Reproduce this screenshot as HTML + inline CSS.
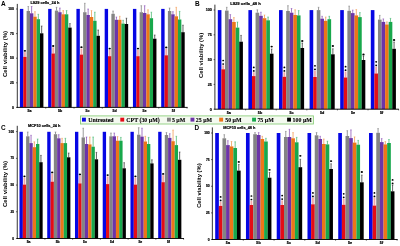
<!DOCTYPE html>
<html><head><meta charset="utf-8"><title>Cell viability</title>
<style>
html,body{margin:0;padding:0;background:#fff;}
body{width:400px;height:246px;overflow:hidden;font-family:"Liberation Sans",sans-serif;}
svg text{font-family:"Liberation Sans",sans-serif;}
</style></head><body>
<svg width="400" height="246" viewBox="0 0 400 246" style="display:block;will-change:transform;opacity:0.999">
<rect width="400" height="246" fill="#fff"/>
<g>
<rect x="19.90" y="8.90" width="3.40" height="98.50" fill="#0606e4"/>
<rect x="24.03" y="52.10" width="1.8" height="4.80" fill="#f2a8a8"/>
<rect x="23.25" y="56.90" width="3.40" height="50.50" fill="#e40c16"/>
<line x1="28.27" y1="11.00" x2="28.27" y2="6.50" stroke="#707070" stroke-width="0.7"/>
<line x1="27.47" y1="6.50" x2="29.07" y2="6.50" stroke="#707070" stroke-width="0.5"/>
<rect x="26.60" y="11.00" width="3.40" height="96.40" fill="#848484"/>
<line x1="31.62" y1="13.30" x2="31.62" y2="6.50" stroke="#8040b0" stroke-width="0.7"/>
<line x1="30.82" y1="6.50" x2="32.42" y2="6.50" stroke="#8040b0" stroke-width="0.5"/>
<rect x="29.95" y="13.30" width="3.40" height="94.10" fill="#6c34a8"/>
<line x1="34.97" y1="16.70" x2="34.97" y2="11.70" stroke="#f09040" stroke-width="0.7"/>
<line x1="34.17" y1="11.70" x2="35.77" y2="11.70" stroke="#f09040" stroke-width="0.5"/>
<rect x="33.30" y="16.70" width="3.40" height="90.70" fill="#ec7618"/>
<line x1="38.32" y1="19.20" x2="38.32" y2="14.30" stroke="#30b060" stroke-width="0.7"/>
<line x1="37.52" y1="14.30" x2="39.12" y2="14.30" stroke="#30b060" stroke-width="0.5"/>
<rect x="36.65" y="19.20" width="3.40" height="88.20" fill="#18a84c"/>
<line x1="41.67" y1="33.30" x2="41.67" y2="26.00" stroke="#202020" stroke-width="0.7"/>
<line x1="40.88" y1="26.00" x2="42.47" y2="26.00" stroke="#202020" stroke-width="0.5"/>
<rect x="40.00" y="33.30" width="3.40" height="74.10" fill="#000000"/>
<ellipse cx="24.93" cy="50.80" rx="1.15" ry="0.9" fill="#000"/>
<text x="29.60" y="111.90" font-size="3.6" font-weight="bold" text-anchor="middle" fill="#000" stroke="#000" stroke-width="0.22">5a</text>
<line x1="45.75" y1="107.40" x2="45.75" y2="108.60" stroke="#000" stroke-width="0.6"/>
<rect x="48.16" y="8.90" width="3.40" height="98.50" fill="#0606e4"/>
<rect x="52.28" y="47.30" width="1.8" height="6.20" fill="#f2a8a8"/>
<rect x="51.51" y="53.50" width="3.40" height="53.90" fill="#e40c16"/>
<line x1="56.53" y1="10.60" x2="56.53" y2="7.30" stroke="#707070" stroke-width="0.7"/>
<line x1="55.73" y1="7.30" x2="57.33" y2="7.30" stroke="#707070" stroke-width="0.5"/>
<rect x="54.86" y="10.60" width="3.40" height="96.80" fill="#848484"/>
<line x1="59.88" y1="12.20" x2="59.88" y2="8.00" stroke="#8040b0" stroke-width="0.7"/>
<line x1="59.08" y1="8.00" x2="60.68" y2="8.00" stroke="#8040b0" stroke-width="0.5"/>
<rect x="58.21" y="12.20" width="3.40" height="95.20" fill="#6c34a8"/>
<line x1="63.23" y1="14.30" x2="63.23" y2="10.60" stroke="#f09040" stroke-width="0.7"/>
<line x1="62.43" y1="10.60" x2="64.03" y2="10.60" stroke="#f09040" stroke-width="0.5"/>
<rect x="61.56" y="14.30" width="3.40" height="93.10" fill="#ec7618"/>
<line x1="66.58" y1="14.30" x2="66.58" y2="10.60" stroke="#30b060" stroke-width="0.7"/>
<line x1="65.78" y1="10.60" x2="67.38" y2="10.60" stroke="#30b060" stroke-width="0.5"/>
<rect x="64.91" y="14.30" width="3.40" height="93.10" fill="#18a84c"/>
<line x1="69.93" y1="27.60" x2="69.93" y2="23.60" stroke="#202020" stroke-width="0.7"/>
<line x1="69.13" y1="23.60" x2="70.73" y2="23.60" stroke="#202020" stroke-width="0.5"/>
<rect x="68.26" y="27.60" width="3.40" height="79.80" fill="#000000"/>
<ellipse cx="53.18" cy="46.00" rx="1.15" ry="0.9" fill="#000"/>
<text x="60.00" y="111.90" font-size="3.6" font-weight="bold" text-anchor="middle" fill="#000" stroke="#000" stroke-width="0.22">5b</text>
<line x1="74.02" y1="107.40" x2="74.02" y2="108.60" stroke="#000" stroke-width="0.6"/>
<rect x="76.42" y="8.90" width="3.40" height="98.50" fill="#0606e4"/>
<rect x="80.54" y="48.50" width="1.8" height="6.10" fill="#f2a8a8"/>
<rect x="79.77" y="54.60" width="3.40" height="52.80" fill="#e40c16"/>
<line x1="84.80" y1="12.20" x2="84.80" y2="3.30" stroke="#707070" stroke-width="0.7"/>
<line x1="84.00" y1="3.30" x2="85.59" y2="3.30" stroke="#707070" stroke-width="0.5"/>
<rect x="83.12" y="12.20" width="3.40" height="95.20" fill="#848484"/>
<line x1="88.14" y1="15.00" x2="88.14" y2="9.00" stroke="#8040b0" stroke-width="0.7"/>
<line x1="87.34" y1="9.00" x2="88.94" y2="9.00" stroke="#8040b0" stroke-width="0.5"/>
<rect x="86.47" y="15.00" width="3.40" height="92.40" fill="#6c34a8"/>
<line x1="91.50" y1="17.00" x2="91.50" y2="10.60" stroke="#f09040" stroke-width="0.7"/>
<line x1="90.70" y1="10.60" x2="92.30" y2="10.60" stroke="#f09040" stroke-width="0.5"/>
<rect x="89.82" y="17.00" width="3.40" height="90.40" fill="#ec7618"/>
<line x1="94.84" y1="20.80" x2="94.84" y2="12.20" stroke="#30b060" stroke-width="0.7"/>
<line x1="94.05" y1="12.20" x2="95.64" y2="12.20" stroke="#30b060" stroke-width="0.5"/>
<rect x="93.17" y="20.80" width="3.40" height="86.60" fill="#18a84c"/>
<line x1="98.20" y1="35.80" x2="98.20" y2="30.00" stroke="#202020" stroke-width="0.7"/>
<line x1="97.40" y1="30.00" x2="99.00" y2="30.00" stroke="#202020" stroke-width="0.5"/>
<rect x="96.52" y="35.80" width="3.40" height="71.60" fill="#000000"/>
<ellipse cx="81.44" cy="47.20" rx="1.15" ry="0.9" fill="#000"/>
<text x="87.60" y="111.90" font-size="3.6" font-weight="bold" text-anchor="middle" fill="#000" stroke="#000" stroke-width="0.22">5c</text>
<line x1="102.28" y1="107.40" x2="102.28" y2="108.60" stroke="#000" stroke-width="0.6"/>
<rect x="104.68" y="8.90" width="3.40" height="98.50" fill="#0606e4"/>
<rect x="108.80" y="49.90" width="1.8" height="6.30" fill="#f2a8a8"/>
<rect x="108.03" y="56.20" width="3.40" height="51.20" fill="#e40c16"/>
<line x1="113.06" y1="13.80" x2="113.06" y2="11.00" stroke="#707070" stroke-width="0.7"/>
<line x1="112.26" y1="11.00" x2="113.86" y2="11.00" stroke="#707070" stroke-width="0.5"/>
<rect x="111.38" y="13.80" width="3.40" height="93.60" fill="#848484"/>
<line x1="116.41" y1="19.80" x2="116.41" y2="17.00" stroke="#8040b0" stroke-width="0.7"/>
<line x1="115.61" y1="17.00" x2="117.20" y2="17.00" stroke="#8040b0" stroke-width="0.5"/>
<rect x="114.73" y="19.80" width="3.40" height="87.60" fill="#6c34a8"/>
<line x1="119.76" y1="19.80" x2="119.76" y2="16.30" stroke="#f09040" stroke-width="0.7"/>
<line x1="118.96" y1="16.30" x2="120.56" y2="16.30" stroke="#f09040" stroke-width="0.5"/>
<rect x="118.08" y="19.80" width="3.40" height="87.60" fill="#ec7618"/>
<line x1="123.11" y1="23.60" x2="123.11" y2="20.30" stroke="#30b060" stroke-width="0.7"/>
<line x1="122.31" y1="20.30" x2="123.91" y2="20.30" stroke="#30b060" stroke-width="0.5"/>
<rect x="121.43" y="23.60" width="3.40" height="83.80" fill="#18a84c"/>
<line x1="126.45" y1="24.00" x2="126.45" y2="18.20" stroke="#202020" stroke-width="0.7"/>
<line x1="125.66" y1="18.20" x2="127.25" y2="18.20" stroke="#202020" stroke-width="0.5"/>
<rect x="124.78" y="24.00" width="3.40" height="83.40" fill="#000000"/>
<ellipse cx="109.70" cy="48.60" rx="1.15" ry="0.9" fill="#000"/>
<text x="114.70" y="111.90" font-size="3.6" font-weight="bold" text-anchor="middle" fill="#000" stroke="#000" stroke-width="0.22">5d</text>
<line x1="130.53" y1="107.40" x2="130.53" y2="108.60" stroke="#000" stroke-width="0.6"/>
<rect x="132.94" y="8.90" width="3.40" height="98.50" fill="#0606e4"/>
<rect x="137.06" y="49.90" width="1.8" height="6.30" fill="#f2a8a8"/>
<rect x="136.29" y="56.20" width="3.40" height="51.20" fill="#e40c16"/>
<line x1="141.31" y1="12.20" x2="141.31" y2="5.70" stroke="#707070" stroke-width="0.7"/>
<line x1="140.51" y1="5.70" x2="142.12" y2="5.70" stroke="#707070" stroke-width="0.5"/>
<rect x="139.64" y="12.20" width="3.40" height="95.20" fill="#848484"/>
<line x1="144.67" y1="13.00" x2="144.67" y2="5.70" stroke="#8040b0" stroke-width="0.7"/>
<line x1="143.87" y1="5.70" x2="145.47" y2="5.70" stroke="#8040b0" stroke-width="0.5"/>
<rect x="142.99" y="13.00" width="3.40" height="94.40" fill="#6c34a8"/>
<line x1="148.02" y1="14.30" x2="148.02" y2="9.80" stroke="#f09040" stroke-width="0.7"/>
<line x1="147.22" y1="9.80" x2="148.82" y2="9.80" stroke="#f09040" stroke-width="0.5"/>
<rect x="146.34" y="14.30" width="3.40" height="93.10" fill="#ec7618"/>
<line x1="151.37" y1="18.20" x2="151.37" y2="12.20" stroke="#30b060" stroke-width="0.7"/>
<line x1="150.56" y1="12.20" x2="152.17" y2="12.20" stroke="#30b060" stroke-width="0.5"/>
<rect x="149.69" y="18.20" width="3.40" height="89.20" fill="#18a84c"/>
<line x1="154.72" y1="38.70" x2="154.72" y2="35.00" stroke="#202020" stroke-width="0.7"/>
<line x1="153.91" y1="35.00" x2="155.52" y2="35.00" stroke="#202020" stroke-width="0.5"/>
<rect x="153.04" y="38.70" width="3.40" height="68.70" fill="#000000"/>
<ellipse cx="137.97" cy="48.60" rx="1.15" ry="0.9" fill="#000"/>
<text x="144.50" y="111.90" font-size="3.6" font-weight="bold" text-anchor="middle" fill="#000" stroke="#000" stroke-width="0.22">5e</text>
<line x1="158.79" y1="107.40" x2="158.79" y2="108.60" stroke="#000" stroke-width="0.6"/>
<rect x="161.20" y="8.90" width="3.40" height="98.50" fill="#0606e4"/>
<rect x="165.33" y="48.70" width="1.8" height="6.60" fill="#f2a8a8"/>
<rect x="164.55" y="55.30" width="3.40" height="52.10" fill="#e40c16"/>
<line x1="169.58" y1="11.00" x2="169.58" y2="8.00" stroke="#707070" stroke-width="0.7"/>
<line x1="168.78" y1="8.00" x2="170.38" y2="8.00" stroke="#707070" stroke-width="0.5"/>
<rect x="167.90" y="11.00" width="3.40" height="96.40" fill="#848484"/>
<line x1="172.93" y1="14.30" x2="172.93" y2="11.70" stroke="#8040b0" stroke-width="0.7"/>
<line x1="172.13" y1="11.70" x2="173.73" y2="11.70" stroke="#8040b0" stroke-width="0.5"/>
<rect x="171.25" y="14.30" width="3.40" height="93.10" fill="#6c34a8"/>
<line x1="176.28" y1="16.30" x2="176.28" y2="7.30" stroke="#f09040" stroke-width="0.7"/>
<line x1="175.48" y1="7.30" x2="177.08" y2="7.30" stroke="#f09040" stroke-width="0.5"/>
<rect x="174.60" y="16.30" width="3.40" height="91.10" fill="#ec7618"/>
<line x1="179.63" y1="19.50" x2="179.63" y2="11.40" stroke="#30b060" stroke-width="0.7"/>
<line x1="178.83" y1="11.40" x2="180.43" y2="11.40" stroke="#30b060" stroke-width="0.5"/>
<rect x="177.95" y="19.50" width="3.40" height="87.90" fill="#18a84c"/>
<line x1="182.98" y1="32.20" x2="182.98" y2="25.20" stroke="#202020" stroke-width="0.7"/>
<line x1="182.18" y1="25.20" x2="183.78" y2="25.20" stroke="#202020" stroke-width="0.5"/>
<rect x="181.30" y="32.20" width="3.40" height="75.20" fill="#000000"/>
<ellipse cx="166.23" cy="47.40" rx="1.15" ry="0.9" fill="#000"/>
<text x="173.30" y="111.90" font-size="3.6" font-weight="bold" text-anchor="middle" fill="#000" stroke="#000" stroke-width="0.22">5f</text>
<line x1="187.06" y1="107.40" x2="187.06" y2="108.60" stroke="#000" stroke-width="0.6"/>
<line x1="17.30" y1="3.90" x2="17.30" y2="107.80" stroke="#000" stroke-width="0.8"/>
<line x1="16.90" y1="107.40" x2="187.60" y2="107.40" stroke="#000" stroke-width="0.9"/>
<line x1="16.00" y1="107.40" x2="17.30" y2="107.40" stroke="#000" stroke-width="0.6"/>
<text x="13.90" y="108.62" font-size="3.4" font-weight="bold" text-anchor="end" fill="#000" stroke="#000" stroke-width="0.18">0</text>
<line x1="16.00" y1="82.80" x2="17.30" y2="82.80" stroke="#000" stroke-width="0.6"/>
<text x="13.90" y="84.02" font-size="3.4" font-weight="bold" text-anchor="end" fill="#000" stroke="#000" stroke-width="0.18">25</text>
<line x1="16.00" y1="58.20" x2="17.30" y2="58.20" stroke="#000" stroke-width="0.6"/>
<text x="13.90" y="59.42" font-size="3.4" font-weight="bold" text-anchor="end" fill="#000" stroke="#000" stroke-width="0.18">50</text>
<line x1="16.00" y1="33.60" x2="17.30" y2="33.60" stroke="#000" stroke-width="0.6"/>
<text x="13.90" y="34.82" font-size="3.4" font-weight="bold" text-anchor="end" fill="#000" stroke="#000" stroke-width="0.18">75</text>
<line x1="16.00" y1="9.00" x2="17.30" y2="9.00" stroke="#000" stroke-width="0.6"/>
<text x="13.90" y="10.22" font-size="3.4" font-weight="bold" text-anchor="end" fill="#000" stroke="#000" stroke-width="0.18">100</text>
<text x="1.00" y="6.00" font-size="6.5" font-weight="bold" fill="#000">A</text>
<text x="44.90" y="4.20" font-size="3.95" font-weight="bold" text-anchor="middle" fill="#000" stroke="#000" stroke-width="0.18">L929 cells_24 h</text>
<text transform="translate(7.16,54.00) rotate(-90)" font-size="6.0" font-weight="bold" text-anchor="middle" fill="#000">Cell viability (%)</text>
</g>
<g>
<rect x="217.80" y="10.10" width="3.63" height="99.10" fill="#0606e4"/>
<rect x="222.27" y="65.30" width="1.8" height="4.00" fill="#f2a8a8"/>
<rect x="221.38" y="69.30" width="3.63" height="39.90" fill="#e40c16"/>
<line x1="226.75" y1="10.60" x2="226.75" y2="7.30" stroke="#707070" stroke-width="0.7"/>
<line x1="225.95" y1="7.30" x2="227.55" y2="7.30" stroke="#707070" stroke-width="0.5"/>
<rect x="224.96" y="10.60" width="3.63" height="98.60" fill="#848484"/>
<line x1="230.33" y1="19.20" x2="230.33" y2="14.60" stroke="#8040b0" stroke-width="0.7"/>
<line x1="229.53" y1="14.60" x2="231.13" y2="14.60" stroke="#8040b0" stroke-width="0.5"/>
<rect x="228.54" y="19.20" width="3.63" height="90.00" fill="#6c34a8"/>
<line x1="233.91" y1="22.00" x2="233.91" y2="17.60" stroke="#f09040" stroke-width="0.7"/>
<line x1="233.11" y1="17.60" x2="234.71" y2="17.60" stroke="#f09040" stroke-width="0.5"/>
<rect x="232.12" y="22.00" width="3.63" height="87.20" fill="#ec7618"/>
<line x1="237.49" y1="27.60" x2="237.49" y2="22.00" stroke="#30b060" stroke-width="0.7"/>
<line x1="236.69" y1="22.00" x2="238.29" y2="22.00" stroke="#30b060" stroke-width="0.5"/>
<rect x="235.70" y="27.60" width="3.63" height="81.60" fill="#18a84c"/>
<line x1="241.07" y1="41.70" x2="241.07" y2="35.40" stroke="#202020" stroke-width="0.7"/>
<line x1="240.27" y1="35.40" x2="241.87" y2="35.40" stroke="#202020" stroke-width="0.5"/>
<rect x="239.28" y="41.70" width="3.63" height="67.50" fill="#000000"/>
<ellipse cx="223.17" cy="60.50" rx="0.95" ry="0.85" fill="#000"/>
<ellipse cx="223.17" cy="64.00" rx="0.95" ry="0.85" fill="#000"/>
<text x="228.80" y="114.00" font-size="3.7" font-weight="bold" text-anchor="middle" fill="#000" stroke="#000" stroke-width="0.22">5a</text>
<line x1="245.63" y1="109.20" x2="245.63" y2="110.40" stroke="#000" stroke-width="0.6"/>
<rect x="248.40" y="10.10" width="3.63" height="99.10" fill="#0606e4"/>
<rect x="252.87" y="72.20" width="1.8" height="3.90" fill="#f2a8a8"/>
<rect x="251.98" y="76.10" width="3.63" height="33.10" fill="#e40c16"/>
<line x1="257.35" y1="12.70" x2="257.35" y2="9.80" stroke="#707070" stroke-width="0.7"/>
<line x1="256.55" y1="9.80" x2="258.15" y2="9.80" stroke="#707070" stroke-width="0.5"/>
<rect x="255.56" y="12.70" width="3.63" height="96.50" fill="#848484"/>
<line x1="260.93" y1="15.80" x2="260.93" y2="12.20" stroke="#8040b0" stroke-width="0.7"/>
<line x1="260.13" y1="12.20" x2="261.73" y2="12.20" stroke="#8040b0" stroke-width="0.5"/>
<rect x="259.14" y="15.80" width="3.63" height="93.40" fill="#6c34a8"/>
<line x1="264.51" y1="18.20" x2="264.51" y2="15.00" stroke="#f09040" stroke-width="0.7"/>
<line x1="263.71" y1="15.00" x2="265.31" y2="15.00" stroke="#f09040" stroke-width="0.5"/>
<rect x="262.72" y="18.20" width="3.63" height="91.00" fill="#ec7618"/>
<line x1="268.09" y1="20.30" x2="268.09" y2="17.00" stroke="#30b060" stroke-width="0.7"/>
<line x1="267.29" y1="17.00" x2="268.89" y2="17.00" stroke="#30b060" stroke-width="0.5"/>
<rect x="266.30" y="20.30" width="3.63" height="88.90" fill="#18a84c"/>
<line x1="271.67" y1="53.70" x2="271.67" y2="49.00" stroke="#202020" stroke-width="0.7"/>
<line x1="270.87" y1="49.00" x2="272.47" y2="49.00" stroke="#202020" stroke-width="0.5"/>
<rect x="269.88" y="53.70" width="3.63" height="55.50" fill="#000000"/>
<ellipse cx="253.77" cy="67.40" rx="0.95" ry="0.85" fill="#000"/>
<ellipse cx="253.77" cy="70.90" rx="0.95" ry="0.85" fill="#000"/>
<ellipse cx="271.67" cy="46.60" rx="1.15" ry="0.9" fill="#000"/>
<text x="260.00" y="114.00" font-size="3.7" font-weight="bold" text-anchor="middle" fill="#000" stroke="#000" stroke-width="0.22">5b</text>
<line x1="276.23" y1="109.20" x2="276.23" y2="110.40" stroke="#000" stroke-width="0.6"/>
<rect x="279.00" y="10.10" width="3.63" height="99.10" fill="#0606e4"/>
<rect x="283.47" y="72.20" width="1.8" height="4.60" fill="#f2a8a8"/>
<rect x="282.58" y="76.80" width="3.63" height="32.40" fill="#e40c16"/>
<line x1="287.95" y1="11.00" x2="287.95" y2="5.70" stroke="#707070" stroke-width="0.7"/>
<line x1="287.15" y1="5.70" x2="288.75" y2="5.70" stroke="#707070" stroke-width="0.5"/>
<rect x="286.16" y="11.00" width="3.63" height="98.20" fill="#848484"/>
<line x1="291.53" y1="12.70" x2="291.53" y2="8.50" stroke="#8040b0" stroke-width="0.7"/>
<line x1="290.73" y1="8.50" x2="292.33" y2="8.50" stroke="#8040b0" stroke-width="0.5"/>
<rect x="289.74" y="12.70" width="3.63" height="96.50" fill="#6c34a8"/>
<line x1="295.11" y1="15.00" x2="295.11" y2="9.80" stroke="#f09040" stroke-width="0.7"/>
<line x1="294.31" y1="9.80" x2="295.91" y2="9.80" stroke="#f09040" stroke-width="0.5"/>
<rect x="293.32" y="15.00" width="3.63" height="94.20" fill="#ec7618"/>
<line x1="298.69" y1="15.40" x2="298.69" y2="10.60" stroke="#30b060" stroke-width="0.7"/>
<line x1="297.89" y1="10.60" x2="299.49" y2="10.60" stroke="#30b060" stroke-width="0.5"/>
<rect x="296.90" y="15.40" width="3.63" height="93.80" fill="#18a84c"/>
<line x1="302.27" y1="48.00" x2="302.27" y2="43.00" stroke="#202020" stroke-width="0.7"/>
<line x1="301.47" y1="43.00" x2="303.07" y2="43.00" stroke="#202020" stroke-width="0.5"/>
<rect x="300.48" y="48.00" width="3.63" height="61.20" fill="#000000"/>
<ellipse cx="284.37" cy="67.40" rx="0.95" ry="0.85" fill="#000"/>
<ellipse cx="284.37" cy="70.90" rx="0.95" ry="0.85" fill="#000"/>
<ellipse cx="302.27" cy="41.00" rx="1.15" ry="0.9" fill="#000"/>
<text x="291.50" y="114.00" font-size="3.7" font-weight="bold" text-anchor="middle" fill="#000" stroke="#000" stroke-width="0.22">5c</text>
<line x1="306.83" y1="109.20" x2="306.83" y2="110.40" stroke="#000" stroke-width="0.6"/>
<rect x="309.60" y="10.10" width="3.63" height="99.10" fill="#0606e4"/>
<rect x="314.07" y="70.60" width="1.8" height="6.40" fill="#f2a8a8"/>
<rect x="313.18" y="77.00" width="3.63" height="32.20" fill="#e40c16"/>
<line x1="318.55" y1="10.10" x2="318.55" y2="7.30" stroke="#707070" stroke-width="0.7"/>
<line x1="317.75" y1="7.30" x2="319.35" y2="7.30" stroke="#707070" stroke-width="0.5"/>
<rect x="316.76" y="10.10" width="3.63" height="99.10" fill="#848484"/>
<line x1="322.13" y1="18.70" x2="322.13" y2="16.30" stroke="#8040b0" stroke-width="0.7"/>
<line x1="321.33" y1="16.30" x2="322.93" y2="16.30" stroke="#8040b0" stroke-width="0.5"/>
<rect x="320.34" y="18.70" width="3.63" height="90.50" fill="#6c34a8"/>
<line x1="325.71" y1="20.80" x2="325.71" y2="17.00" stroke="#f09040" stroke-width="0.7"/>
<line x1="324.91" y1="17.00" x2="326.51" y2="17.00" stroke="#f09040" stroke-width="0.5"/>
<rect x="323.92" y="20.80" width="3.63" height="88.40" fill="#ec7618"/>
<line x1="329.29" y1="19.20" x2="329.29" y2="16.30" stroke="#30b060" stroke-width="0.7"/>
<line x1="328.49" y1="16.30" x2="330.09" y2="16.30" stroke="#30b060" stroke-width="0.5"/>
<rect x="327.50" y="19.20" width="3.63" height="90.00" fill="#18a84c"/>
<line x1="332.87" y1="54.30" x2="332.87" y2="48.80" stroke="#202020" stroke-width="0.7"/>
<line x1="332.07" y1="48.80" x2="333.67" y2="48.80" stroke="#202020" stroke-width="0.5"/>
<rect x="331.08" y="54.30" width="3.63" height="54.90" fill="#000000"/>
<ellipse cx="314.97" cy="65.80" rx="0.95" ry="0.85" fill="#000"/>
<ellipse cx="314.97" cy="69.30" rx="0.95" ry="0.85" fill="#000"/>
<ellipse cx="332.87" cy="46.00" rx="1.15" ry="0.9" fill="#000"/>
<text x="322.20" y="114.00" font-size="3.7" font-weight="bold" text-anchor="middle" fill="#000" stroke="#000" stroke-width="0.22">5d</text>
<line x1="337.43" y1="109.20" x2="337.43" y2="110.40" stroke="#000" stroke-width="0.6"/>
<rect x="340.20" y="10.10" width="3.63" height="99.10" fill="#0606e4"/>
<rect x="344.67" y="71.50" width="1.8" height="6.00" fill="#f2a8a8"/>
<rect x="343.78" y="77.50" width="3.63" height="31.70" fill="#e40c16"/>
<line x1="349.15" y1="10.80" x2="349.15" y2="6.10" stroke="#707070" stroke-width="0.7"/>
<line x1="348.35" y1="6.10" x2="349.95" y2="6.10" stroke="#707070" stroke-width="0.5"/>
<rect x="347.36" y="10.80" width="3.63" height="98.40" fill="#848484"/>
<line x1="352.73" y1="13.10" x2="352.73" y2="10.10" stroke="#8040b0" stroke-width="0.7"/>
<line x1="351.93" y1="10.10" x2="353.53" y2="10.10" stroke="#8040b0" stroke-width="0.5"/>
<rect x="350.94" y="13.10" width="3.63" height="96.10" fill="#6c34a8"/>
<line x1="356.31" y1="15.40" x2="356.31" y2="9.60" stroke="#f09040" stroke-width="0.7"/>
<line x1="355.51" y1="9.60" x2="357.11" y2="9.60" stroke="#f09040" stroke-width="0.5"/>
<rect x="354.52" y="15.40" width="3.63" height="93.80" fill="#ec7618"/>
<line x1="359.89" y1="17.10" x2="359.89" y2="12.60" stroke="#30b060" stroke-width="0.7"/>
<line x1="359.09" y1="12.60" x2="360.69" y2="12.60" stroke="#30b060" stroke-width="0.5"/>
<rect x="358.10" y="17.10" width="3.63" height="92.10" fill="#18a84c"/>
<line x1="363.47" y1="60.00" x2="363.47" y2="56.00" stroke="#202020" stroke-width="0.7"/>
<line x1="362.67" y1="56.00" x2="364.27" y2="56.00" stroke="#202020" stroke-width="0.5"/>
<rect x="361.68" y="60.00" width="3.63" height="49.20" fill="#000000"/>
<ellipse cx="345.57" cy="66.70" rx="0.95" ry="0.85" fill="#000"/>
<ellipse cx="345.57" cy="70.20" rx="0.95" ry="0.85" fill="#000"/>
<ellipse cx="363.47" cy="54.50" rx="1.15" ry="0.9" fill="#000"/>
<text x="353.00" y="114.00" font-size="3.7" font-weight="bold" text-anchor="middle" fill="#000" stroke="#000" stroke-width="0.22">5e</text>
<line x1="368.03" y1="109.20" x2="368.03" y2="110.40" stroke="#000" stroke-width="0.6"/>
<rect x="370.80" y="10.10" width="3.63" height="99.10" fill="#0606e4"/>
<rect x="375.27" y="66.60" width="1.8" height="6.90" fill="#f2a8a8"/>
<rect x="374.38" y="73.50" width="3.63" height="35.70" fill="#e40c16"/>
<line x1="379.75" y1="19.60" x2="379.75" y2="15.40" stroke="#707070" stroke-width="0.7"/>
<line x1="378.95" y1="15.40" x2="380.55" y2="15.40" stroke="#707070" stroke-width="0.5"/>
<rect x="377.96" y="19.60" width="3.63" height="89.60" fill="#848484"/>
<line x1="383.33" y1="21.90" x2="383.33" y2="18.90" stroke="#8040b0" stroke-width="0.7"/>
<line x1="382.53" y1="18.90" x2="384.13" y2="18.90" stroke="#8040b0" stroke-width="0.5"/>
<rect x="381.54" y="21.90" width="3.63" height="87.30" fill="#6c34a8"/>
<line x1="386.91" y1="24.50" x2="386.91" y2="21.90" stroke="#f09040" stroke-width="0.7"/>
<line x1="386.11" y1="21.90" x2="387.71" y2="21.90" stroke="#f09040" stroke-width="0.5"/>
<rect x="385.12" y="24.50" width="3.63" height="84.70" fill="#ec7618"/>
<line x1="390.49" y1="21.90" x2="390.49" y2="18.40" stroke="#30b060" stroke-width="0.7"/>
<line x1="389.69" y1="18.40" x2="391.29" y2="18.40" stroke="#30b060" stroke-width="0.5"/>
<rect x="388.70" y="21.90" width="3.63" height="87.30" fill="#18a84c"/>
<line x1="394.07" y1="48.80" x2="394.07" y2="42.00" stroke="#202020" stroke-width="0.7"/>
<line x1="393.27" y1="42.00" x2="394.87" y2="42.00" stroke="#202020" stroke-width="0.5"/>
<rect x="392.28" y="48.80" width="3.63" height="60.40" fill="#000000"/>
<ellipse cx="376.17" cy="61.80" rx="0.95" ry="0.85" fill="#000"/>
<ellipse cx="376.17" cy="65.30" rx="0.95" ry="0.85" fill="#000"/>
<ellipse cx="394.07" cy="40.00" rx="1.15" ry="0.9" fill="#000"/>
<text x="381.70" y="114.00" font-size="3.7" font-weight="bold" text-anchor="middle" fill="#000" stroke="#000" stroke-width="0.22">5f</text>
<line x1="398.63" y1="109.20" x2="398.63" y2="110.40" stroke="#000" stroke-width="0.6"/>
<line x1="214.90" y1="4.65" x2="214.90" y2="109.60" stroke="#000" stroke-width="0.8"/>
<line x1="214.50" y1="109.20" x2="398.90" y2="109.20" stroke="#000" stroke-width="0.9"/>
<line x1="213.60" y1="109.20" x2="214.90" y2="109.20" stroke="#000" stroke-width="0.6"/>
<text x="211.80" y="110.53" font-size="3.7" font-weight="bold" text-anchor="end" fill="#000" stroke="#000" stroke-width="0.18">0</text>
<line x1="213.60" y1="84.40" x2="214.90" y2="84.40" stroke="#000" stroke-width="0.6"/>
<text x="211.80" y="85.73" font-size="3.7" font-weight="bold" text-anchor="end" fill="#000" stroke="#000" stroke-width="0.18">25</text>
<line x1="213.60" y1="59.60" x2="214.90" y2="59.60" stroke="#000" stroke-width="0.6"/>
<text x="211.80" y="60.93" font-size="3.7" font-weight="bold" text-anchor="end" fill="#000" stroke="#000" stroke-width="0.18">50</text>
<line x1="213.60" y1="34.80" x2="214.90" y2="34.80" stroke="#000" stroke-width="0.6"/>
<text x="211.80" y="36.13" font-size="3.7" font-weight="bold" text-anchor="end" fill="#000" stroke="#000" stroke-width="0.18">75</text>
<line x1="213.60" y1="10.00" x2="214.90" y2="10.00" stroke="#000" stroke-width="0.6"/>
<text x="211.80" y="11.33" font-size="3.7" font-weight="bold" text-anchor="end" fill="#000" stroke="#000" stroke-width="0.18">100</text>
<text x="194.90" y="6.15" font-size="6.5" font-weight="bold" fill="#000">B</text>
<text x="245.50" y="5.40" font-size="4.2" font-weight="bold" text-anchor="middle" fill="#000" stroke="#000" stroke-width="0.18">L929 cells_48 h</text>
<text transform="translate(203.02,55.30) rotate(-90)" font-size="5.9" font-weight="bold" text-anchor="middle" fill="#000">Cell viability (%)</text>
</g>
<g>
<rect x="19.50" y="131.80" width="3.35" height="106.70" fill="#0606e4"/>
<rect x="23.55" y="177.60" width="1.8" height="7.00" fill="#f2a8a8"/>
<rect x="22.80" y="184.60" width="3.35" height="53.90" fill="#e40c16"/>
<line x1="27.75" y1="136.30" x2="27.75" y2="132.00" stroke="#707070" stroke-width="0.7"/>
<line x1="26.95" y1="132.00" x2="28.55" y2="132.00" stroke="#707070" stroke-width="0.5"/>
<rect x="26.10" y="136.30" width="3.35" height="102.20" fill="#848484"/>
<line x1="31.05" y1="143.10" x2="31.05" y2="135.30" stroke="#8040b0" stroke-width="0.7"/>
<line x1="30.25" y1="135.30" x2="31.85" y2="135.30" stroke="#8040b0" stroke-width="0.5"/>
<rect x="29.40" y="143.10" width="3.35" height="95.40" fill="#6c34a8"/>
<line x1="34.35" y1="147.20" x2="34.35" y2="141.80" stroke="#f09040" stroke-width="0.7"/>
<line x1="33.55" y1="141.80" x2="35.15" y2="141.80" stroke="#f09040" stroke-width="0.5"/>
<rect x="32.70" y="147.20" width="3.35" height="91.30" fill="#ec7618"/>
<line x1="37.65" y1="144.00" x2="37.65" y2="139.00" stroke="#30b060" stroke-width="0.7"/>
<line x1="36.85" y1="139.00" x2="38.45" y2="139.00" stroke="#30b060" stroke-width="0.5"/>
<rect x="36.00" y="144.00" width="3.35" height="94.50" fill="#18a84c"/>
<line x1="40.95" y1="162.20" x2="40.95" y2="155.40" stroke="#202020" stroke-width="0.7"/>
<line x1="40.15" y1="155.40" x2="41.75" y2="155.40" stroke="#202020" stroke-width="0.5"/>
<rect x="39.30" y="162.20" width="3.35" height="76.30" fill="#000000"/>
<ellipse cx="24.45" cy="176.30" rx="1.15" ry="0.9" fill="#000"/>
<text x="28.60" y="243.40" font-size="3.4" font-weight="bold" text-anchor="middle" fill="#000" stroke="#000" stroke-width="0.22">5a</text>
<line x1="44.92" y1="238.50" x2="44.92" y2="239.70" stroke="#000" stroke-width="0.6"/>
<rect x="47.24" y="131.80" width="3.35" height="106.70" fill="#0606e4"/>
<rect x="51.29" y="173.70" width="1.8" height="8.00" fill="#f2a8a8"/>
<rect x="50.54" y="181.70" width="3.35" height="56.80" fill="#e40c16"/>
<line x1="55.49" y1="134.20" x2="55.49" y2="132.00" stroke="#707070" stroke-width="0.7"/>
<line x1="54.69" y1="132.00" x2="56.29" y2="132.00" stroke="#707070" stroke-width="0.5"/>
<rect x="53.84" y="134.20" width="3.35" height="104.30" fill="#848484"/>
<line x1="58.79" y1="138.30" x2="58.79" y2="134.70" stroke="#8040b0" stroke-width="0.7"/>
<line x1="57.99" y1="134.70" x2="59.59" y2="134.70" stroke="#8040b0" stroke-width="0.5"/>
<rect x="57.14" y="138.30" width="3.35" height="100.20" fill="#6c34a8"/>
<line x1="62.09" y1="143.10" x2="62.09" y2="138.30" stroke="#f09040" stroke-width="0.7"/>
<line x1="61.29" y1="138.30" x2="62.89" y2="138.30" stroke="#f09040" stroke-width="0.5"/>
<rect x="60.44" y="143.10" width="3.35" height="95.40" fill="#ec7618"/>
<line x1="65.39" y1="143.10" x2="65.39" y2="138.30" stroke="#30b060" stroke-width="0.7"/>
<line x1="64.59" y1="138.30" x2="66.19" y2="138.30" stroke="#30b060" stroke-width="0.5"/>
<rect x="63.74" y="143.10" width="3.35" height="95.40" fill="#18a84c"/>
<line x1="68.69" y1="157.30" x2="68.69" y2="153.00" stroke="#202020" stroke-width="0.7"/>
<line x1="67.89" y1="153.00" x2="69.49" y2="153.00" stroke="#202020" stroke-width="0.5"/>
<rect x="67.04" y="157.30" width="3.35" height="81.20" fill="#000000"/>
<ellipse cx="52.19" cy="172.40" rx="1.15" ry="0.9" fill="#000"/>
<text x="57.70" y="243.40" font-size="3.4" font-weight="bold" text-anchor="middle" fill="#000" stroke="#000" stroke-width="0.22">5b</text>
<line x1="72.66" y1="238.50" x2="72.66" y2="239.70" stroke="#000" stroke-width="0.6"/>
<rect x="74.98" y="131.80" width="3.35" height="106.70" fill="#0606e4"/>
<rect x="79.03" y="175.70" width="1.8" height="7.70" fill="#f2a8a8"/>
<rect x="78.28" y="183.40" width="3.35" height="55.10" fill="#e40c16"/>
<line x1="83.23" y1="137.40" x2="83.23" y2="128.20" stroke="#707070" stroke-width="0.7"/>
<line x1="82.43" y1="128.20" x2="84.03" y2="128.20" stroke="#707070" stroke-width="0.5"/>
<rect x="81.58" y="137.40" width="3.35" height="101.10" fill="#848484"/>
<line x1="86.53" y1="144.00" x2="86.53" y2="137.00" stroke="#8040b0" stroke-width="0.7"/>
<line x1="85.73" y1="137.00" x2="87.33" y2="137.00" stroke="#8040b0" stroke-width="0.5"/>
<rect x="84.88" y="144.00" width="3.35" height="94.50" fill="#6c34a8"/>
<line x1="89.83" y1="144.40" x2="89.83" y2="137.00" stroke="#f09040" stroke-width="0.7"/>
<line x1="89.03" y1="137.00" x2="90.63" y2="137.00" stroke="#f09040" stroke-width="0.5"/>
<rect x="88.18" y="144.40" width="3.35" height="94.10" fill="#ec7618"/>
<line x1="93.13" y1="146.70" x2="93.13" y2="137.00" stroke="#30b060" stroke-width="0.7"/>
<line x1="92.33" y1="137.00" x2="93.93" y2="137.00" stroke="#30b060" stroke-width="0.5"/>
<rect x="91.48" y="146.70" width="3.35" height="91.80" fill="#18a84c"/>
<line x1="96.43" y1="159.30" x2="96.43" y2="152.40" stroke="#202020" stroke-width="0.7"/>
<line x1="95.63" y1="152.40" x2="97.23" y2="152.40" stroke="#202020" stroke-width="0.5"/>
<rect x="94.78" y="159.30" width="3.35" height="79.20" fill="#000000"/>
<ellipse cx="79.93" cy="174.40" rx="1.15" ry="0.9" fill="#000"/>
<text x="85.00" y="243.40" font-size="3.4" font-weight="bold" text-anchor="middle" fill="#000" stroke="#000" stroke-width="0.22">5c</text>
<line x1="100.40" y1="238.50" x2="100.40" y2="239.70" stroke="#000" stroke-width="0.6"/>
<rect x="102.72" y="131.80" width="3.35" height="106.70" fill="#0606e4"/>
<rect x="106.77" y="176.40" width="1.8" height="7.70" fill="#f2a8a8"/>
<rect x="106.02" y="184.10" width="3.35" height="54.40" fill="#e40c16"/>
<line x1="110.97" y1="136.30" x2="110.97" y2="133.00" stroke="#707070" stroke-width="0.7"/>
<line x1="110.17" y1="133.00" x2="111.77" y2="133.00" stroke="#707070" stroke-width="0.5"/>
<rect x="109.32" y="136.30" width="3.35" height="102.20" fill="#848484"/>
<line x1="114.27" y1="136.30" x2="114.27" y2="133.00" stroke="#8040b0" stroke-width="0.7"/>
<line x1="113.47" y1="133.00" x2="115.07" y2="133.00" stroke="#8040b0" stroke-width="0.5"/>
<rect x="112.62" y="136.30" width="3.35" height="102.20" fill="#6c34a8"/>
<line x1="117.57" y1="140.70" x2="117.57" y2="136.60" stroke="#f09040" stroke-width="0.7"/>
<line x1="116.77" y1="136.60" x2="118.37" y2="136.60" stroke="#f09040" stroke-width="0.5"/>
<rect x="115.92" y="140.70" width="3.35" height="97.80" fill="#ec7618"/>
<line x1="120.87" y1="140.70" x2="120.87" y2="137.40" stroke="#30b060" stroke-width="0.7"/>
<line x1="120.07" y1="137.40" x2="121.67" y2="137.40" stroke="#30b060" stroke-width="0.5"/>
<rect x="119.22" y="140.70" width="3.35" height="97.80" fill="#18a84c"/>
<line x1="124.17" y1="168.30" x2="124.17" y2="162.70" stroke="#202020" stroke-width="0.7"/>
<line x1="123.37" y1="162.70" x2="124.97" y2="162.70" stroke="#202020" stroke-width="0.5"/>
<rect x="122.52" y="168.30" width="3.35" height="70.20" fill="#000000"/>
<ellipse cx="107.67" cy="175.10" rx="1.15" ry="0.9" fill="#000"/>
<text x="112.00" y="243.40" font-size="3.4" font-weight="bold" text-anchor="middle" fill="#000" stroke="#000" stroke-width="0.22">5d</text>
<line x1="128.14" y1="238.50" x2="128.14" y2="239.70" stroke="#000" stroke-width="0.6"/>
<rect x="130.46" y="131.80" width="3.35" height="106.70" fill="#0606e4"/>
<rect x="134.51" y="177.60" width="1.8" height="7.00" fill="#f2a8a8"/>
<rect x="133.76" y="184.60" width="3.35" height="53.90" fill="#e40c16"/>
<line x1="138.71" y1="134.70" x2="138.71" y2="127.70" stroke="#707070" stroke-width="0.7"/>
<line x1="137.91" y1="127.70" x2="139.51" y2="127.70" stroke="#707070" stroke-width="0.5"/>
<rect x="137.06" y="134.70" width="3.35" height="103.80" fill="#848484"/>
<line x1="142.01" y1="136.60" x2="142.01" y2="128.20" stroke="#8040b0" stroke-width="0.7"/>
<line x1="141.21" y1="128.20" x2="142.81" y2="128.20" stroke="#8040b0" stroke-width="0.5"/>
<rect x="140.36" y="136.60" width="3.35" height="101.90" fill="#6c34a8"/>
<line x1="145.31" y1="141.50" x2="145.31" y2="136.30" stroke="#f09040" stroke-width="0.7"/>
<line x1="144.51" y1="136.30" x2="146.11" y2="136.30" stroke="#f09040" stroke-width="0.5"/>
<rect x="143.66" y="141.50" width="3.35" height="97.00" fill="#ec7618"/>
<line x1="148.61" y1="144.00" x2="148.61" y2="137.40" stroke="#30b060" stroke-width="0.7"/>
<line x1="147.81" y1="137.40" x2="149.41" y2="137.40" stroke="#30b060" stroke-width="0.5"/>
<rect x="146.96" y="144.00" width="3.35" height="94.50" fill="#18a84c"/>
<line x1="151.91" y1="163.40" x2="151.91" y2="159.80" stroke="#202020" stroke-width="0.7"/>
<line x1="151.11" y1="159.80" x2="152.71" y2="159.80" stroke="#202020" stroke-width="0.5"/>
<rect x="150.26" y="163.40" width="3.35" height="75.10" fill="#000000"/>
<ellipse cx="135.41" cy="176.30" rx="1.15" ry="0.9" fill="#000"/>
<text x="140.30" y="243.40" font-size="3.4" font-weight="bold" text-anchor="middle" fill="#000" stroke="#000" stroke-width="0.22">5e</text>
<line x1="155.88" y1="238.50" x2="155.88" y2="239.70" stroke="#000" stroke-width="0.6"/>
<rect x="158.20" y="131.80" width="3.35" height="106.70" fill="#0606e4"/>
<rect x="162.25" y="175.20" width="1.8" height="7.00" fill="#f2a8a8"/>
<rect x="161.50" y="182.20" width="3.35" height="56.30" fill="#e40c16"/>
<line x1="166.45" y1="135.00" x2="166.45" y2="132.60" stroke="#707070" stroke-width="0.7"/>
<line x1="165.65" y1="132.60" x2="167.25" y2="132.60" stroke="#707070" stroke-width="0.5"/>
<rect x="164.80" y="135.00" width="3.35" height="103.50" fill="#848484"/>
<line x1="169.75" y1="137.90" x2="169.75" y2="133.70" stroke="#8040b0" stroke-width="0.7"/>
<line x1="168.95" y1="133.70" x2="170.55" y2="133.70" stroke="#8040b0" stroke-width="0.5"/>
<rect x="168.10" y="137.90" width="3.35" height="100.60" fill="#6c34a8"/>
<line x1="173.05" y1="141.20" x2="173.05" y2="130.10" stroke="#f09040" stroke-width="0.7"/>
<line x1="172.25" y1="130.10" x2="173.85" y2="130.10" stroke="#f09040" stroke-width="0.5"/>
<rect x="171.40" y="141.20" width="3.35" height="97.30" fill="#ec7618"/>
<line x1="176.35" y1="145.10" x2="176.35" y2="136.30" stroke="#30b060" stroke-width="0.7"/>
<line x1="175.55" y1="136.30" x2="177.15" y2="136.30" stroke="#30b060" stroke-width="0.5"/>
<rect x="174.70" y="145.10" width="3.35" height="93.40" fill="#18a84c"/>
<line x1="179.65" y1="159.80" x2="179.65" y2="152.00" stroke="#202020" stroke-width="0.7"/>
<line x1="178.85" y1="152.00" x2="180.45" y2="152.00" stroke="#202020" stroke-width="0.5"/>
<rect x="178.00" y="159.80" width="3.35" height="78.70" fill="#000000"/>
<ellipse cx="163.15" cy="173.90" rx="1.15" ry="0.9" fill="#000"/>
<text x="168.50" y="243.40" font-size="3.4" font-weight="bold" text-anchor="middle" fill="#000" stroke="#000" stroke-width="0.22">5f</text>
<line x1="183.62" y1="238.50" x2="183.62" y2="239.70" stroke="#000" stroke-width="0.6"/>
<line x1="17.25" y1="125.80" x2="17.25" y2="238.90" stroke="#000" stroke-width="0.8"/>
<line x1="16.85" y1="238.50" x2="184.00" y2="238.50" stroke="#000" stroke-width="0.9"/>
<line x1="15.95" y1="238.50" x2="17.25" y2="238.50" stroke="#000" stroke-width="0.6"/>
<text x="13.95" y="239.65" font-size="3.2" font-weight="bold" text-anchor="end" fill="#000" stroke="#000" stroke-width="0.18">0</text>
<line x1="15.95" y1="211.78" x2="17.25" y2="211.78" stroke="#000" stroke-width="0.6"/>
<text x="13.95" y="212.93" font-size="3.2" font-weight="bold" text-anchor="end" fill="#000" stroke="#000" stroke-width="0.18">25</text>
<line x1="15.95" y1="185.05" x2="17.25" y2="185.05" stroke="#000" stroke-width="0.6"/>
<text x="13.95" y="186.20" font-size="3.2" font-weight="bold" text-anchor="end" fill="#000" stroke="#000" stroke-width="0.18">50</text>
<line x1="15.95" y1="158.32" x2="17.25" y2="158.32" stroke="#000" stroke-width="0.6"/>
<text x="13.95" y="159.48" font-size="3.2" font-weight="bold" text-anchor="end" fill="#000" stroke="#000" stroke-width="0.18">75</text>
<line x1="15.95" y1="131.60" x2="17.25" y2="131.60" stroke="#000" stroke-width="0.6"/>
<text x="13.95" y="132.75" font-size="3.2" font-weight="bold" text-anchor="end" fill="#000" stroke="#000" stroke-width="0.18">100</text>
<text x="0.90" y="130.30" font-size="6.4" font-weight="bold" fill="#000">C</text>
<text x="44.25" y="127.40" font-size="3.9" font-weight="bold" text-anchor="middle" fill="#000" stroke="#000" stroke-width="0.18">MCF10 cells_24 h</text>
<text transform="translate(6.76,184.00) rotate(-90)" font-size="6.0" font-weight="bold" text-anchor="middle" fill="#000">Cell viability (%)</text>
</g>
<g>
<rect x="215.20" y="133.00" width="3.68" height="106.50" fill="#0606e4"/>
<rect x="219.74" y="201.70" width="1.8" height="4.20" fill="#f2a8a8"/>
<rect x="218.83" y="205.90" width="3.68" height="33.60" fill="#e40c16"/>
<line x1="224.27" y1="138.30" x2="224.27" y2="134.70" stroke="#707070" stroke-width="0.7"/>
<line x1="223.47" y1="134.70" x2="225.07" y2="134.70" stroke="#707070" stroke-width="0.5"/>
<rect x="222.46" y="138.30" width="3.68" height="101.20" fill="#848484"/>
<line x1="227.90" y1="145.10" x2="227.90" y2="140.70" stroke="#8040b0" stroke-width="0.7"/>
<line x1="227.10" y1="140.70" x2="228.70" y2="140.70" stroke="#8040b0" stroke-width="0.5"/>
<rect x="226.09" y="145.10" width="3.68" height="94.40" fill="#6c34a8"/>
<line x1="231.53" y1="146.40" x2="231.53" y2="141.50" stroke="#f09040" stroke-width="0.7"/>
<line x1="230.73" y1="141.50" x2="232.34" y2="141.50" stroke="#f09040" stroke-width="0.5"/>
<rect x="229.72" y="146.40" width="3.68" height="93.10" fill="#ec7618"/>
<line x1="235.16" y1="148.00" x2="235.16" y2="141.80" stroke="#30b060" stroke-width="0.7"/>
<line x1="234.36" y1="141.80" x2="235.97" y2="141.80" stroke="#30b060" stroke-width="0.5"/>
<rect x="233.35" y="148.00" width="3.68" height="91.50" fill="#18a84c"/>
<line x1="238.79" y1="170.60" x2="238.79" y2="164.50" stroke="#202020" stroke-width="0.7"/>
<line x1="237.99" y1="164.50" x2="239.59" y2="164.50" stroke="#202020" stroke-width="0.5"/>
<rect x="236.98" y="170.60" width="3.68" height="68.90" fill="#000000"/>
<ellipse cx="220.64" cy="196.90" rx="0.95" ry="0.85" fill="#000"/>
<ellipse cx="220.64" cy="200.40" rx="0.95" ry="0.85" fill="#000"/>
<ellipse cx="238.79" cy="161.90" rx="1.15" ry="0.9" fill="#000"/>
<text x="227.90" y="243.50" font-size="3.7" font-weight="bold" text-anchor="middle" fill="#000" stroke="#000" stroke-width="0.22">5a</text>
<line x1="243.28" y1="239.50" x2="243.28" y2="240.70" stroke="#000" stroke-width="0.6"/>
<rect x="245.96" y="133.00" width="3.68" height="106.50" fill="#0606e4"/>
<rect x="250.50" y="200.80" width="1.8" height="4.20" fill="#f2a8a8"/>
<rect x="249.59" y="205.00" width="3.68" height="34.50" fill="#e40c16"/>
<line x1="255.03" y1="134.20" x2="255.03" y2="132.60" stroke="#707070" stroke-width="0.7"/>
<line x1="254.23" y1="132.60" x2="255.83" y2="132.60" stroke="#707070" stroke-width="0.5"/>
<rect x="253.22" y="134.20" width="3.68" height="105.30" fill="#848484"/>
<line x1="258.66" y1="135.00" x2="258.66" y2="132.60" stroke="#8040b0" stroke-width="0.7"/>
<line x1="257.86" y1="132.60" x2="259.46" y2="132.60" stroke="#8040b0" stroke-width="0.5"/>
<rect x="256.85" y="135.00" width="3.68" height="104.50" fill="#6c34a8"/>
<line x1="262.29" y1="139.00" x2="262.29" y2="136.30" stroke="#f09040" stroke-width="0.7"/>
<line x1="261.49" y1="136.30" x2="263.09" y2="136.30" stroke="#f09040" stroke-width="0.5"/>
<rect x="260.48" y="139.00" width="3.68" height="100.50" fill="#ec7618"/>
<line x1="265.92" y1="141.50" x2="265.92" y2="138.30" stroke="#30b060" stroke-width="0.7"/>
<line x1="265.12" y1="138.30" x2="266.72" y2="138.30" stroke="#30b060" stroke-width="0.5"/>
<rect x="264.11" y="141.50" width="3.68" height="98.00" fill="#18a84c"/>
<line x1="269.56" y1="177.70" x2="269.56" y2="172.40" stroke="#202020" stroke-width="0.7"/>
<line x1="268.75" y1="172.40" x2="270.36" y2="172.40" stroke="#202020" stroke-width="0.5"/>
<rect x="267.74" y="177.70" width="3.68" height="61.80" fill="#000000"/>
<ellipse cx="251.40" cy="196.00" rx="0.95" ry="0.85" fill="#000"/>
<ellipse cx="251.40" cy="199.50" rx="0.95" ry="0.85" fill="#000"/>
<ellipse cx="269.56" cy="169.80" rx="1.15" ry="0.9" fill="#000"/>
<text x="258.50" y="243.50" font-size="3.7" font-weight="bold" text-anchor="middle" fill="#000" stroke="#000" stroke-width="0.22">5b</text>
<line x1="274.05" y1="239.50" x2="274.05" y2="240.70" stroke="#000" stroke-width="0.6"/>
<rect x="276.72" y="133.00" width="3.68" height="106.50" fill="#0606e4"/>
<rect x="281.26" y="200.40" width="1.8" height="4.60" fill="#f2a8a8"/>
<rect x="280.35" y="205.00" width="3.68" height="34.50" fill="#e40c16"/>
<line x1="285.79" y1="137.00" x2="285.79" y2="131.40" stroke="#707070" stroke-width="0.7"/>
<line x1="284.99" y1="131.40" x2="286.59" y2="131.40" stroke="#707070" stroke-width="0.5"/>
<rect x="283.98" y="137.00" width="3.68" height="102.50" fill="#848484"/>
<line x1="289.42" y1="137.00" x2="289.42" y2="129.30" stroke="#8040b0" stroke-width="0.7"/>
<line x1="288.62" y1="129.30" x2="290.22" y2="129.30" stroke="#8040b0" stroke-width="0.5"/>
<rect x="287.61" y="137.00" width="3.68" height="102.50" fill="#6c34a8"/>
<line x1="293.05" y1="138.30" x2="293.05" y2="132.60" stroke="#f09040" stroke-width="0.7"/>
<line x1="292.25" y1="132.60" x2="293.85" y2="132.60" stroke="#f09040" stroke-width="0.5"/>
<rect x="291.24" y="138.30" width="3.68" height="101.20" fill="#ec7618"/>
<line x1="296.68" y1="142.30" x2="296.68" y2="137.40" stroke="#30b060" stroke-width="0.7"/>
<line x1="295.88" y1="137.40" x2="297.48" y2="137.40" stroke="#30b060" stroke-width="0.5"/>
<rect x="294.87" y="142.30" width="3.68" height="97.20" fill="#18a84c"/>
<line x1="300.31" y1="167.20" x2="300.31" y2="159.30" stroke="#202020" stroke-width="0.7"/>
<line x1="299.51" y1="159.30" x2="301.12" y2="159.30" stroke="#202020" stroke-width="0.5"/>
<rect x="298.50" y="167.20" width="3.68" height="72.30" fill="#000000"/>
<ellipse cx="282.16" cy="195.60" rx="0.95" ry="0.85" fill="#000"/>
<ellipse cx="282.16" cy="199.10" rx="0.95" ry="0.85" fill="#000"/>
<ellipse cx="300.31" cy="155.80" rx="1.15" ry="0.9" fill="#000"/>
<text x="288.80" y="243.50" font-size="3.7" font-weight="bold" text-anchor="middle" fill="#000" stroke="#000" stroke-width="0.22">5c</text>
<line x1="304.81" y1="239.50" x2="304.81" y2="240.70" stroke="#000" stroke-width="0.6"/>
<rect x="307.48" y="133.00" width="3.68" height="106.50" fill="#0606e4"/>
<rect x="312.03" y="197.70" width="1.8" height="6.60" fill="#f2a8a8"/>
<rect x="311.11" y="204.30" width="3.68" height="35.20" fill="#e40c16"/>
<line x1="316.56" y1="135.30" x2="316.56" y2="132.60" stroke="#707070" stroke-width="0.7"/>
<line x1="315.75" y1="132.60" x2="317.36" y2="132.60" stroke="#707070" stroke-width="0.5"/>
<rect x="314.74" y="135.30" width="3.68" height="104.20" fill="#848484"/>
<line x1="320.19" y1="139.00" x2="320.19" y2="136.30" stroke="#8040b0" stroke-width="0.7"/>
<line x1="319.38" y1="136.30" x2="320.99" y2="136.30" stroke="#8040b0" stroke-width="0.5"/>
<rect x="318.37" y="139.00" width="3.68" height="100.50" fill="#6c34a8"/>
<line x1="323.81" y1="144.00" x2="323.81" y2="139.00" stroke="#f09040" stroke-width="0.7"/>
<line x1="323.01" y1="139.00" x2="324.62" y2="139.00" stroke="#f09040" stroke-width="0.5"/>
<rect x="322.00" y="144.00" width="3.68" height="95.50" fill="#ec7618"/>
<line x1="327.44" y1="144.40" x2="327.44" y2="141.20" stroke="#30b060" stroke-width="0.7"/>
<line x1="326.64" y1="141.20" x2="328.25" y2="141.20" stroke="#30b060" stroke-width="0.5"/>
<rect x="325.63" y="144.40" width="3.68" height="95.10" fill="#18a84c"/>
<line x1="331.07" y1="169.00" x2="331.07" y2="163.80" stroke="#202020" stroke-width="0.7"/>
<line x1="330.27" y1="163.80" x2="331.88" y2="163.80" stroke="#202020" stroke-width="0.5"/>
<rect x="329.26" y="169.00" width="3.68" height="70.50" fill="#000000"/>
<ellipse cx="312.93" cy="192.90" rx="0.95" ry="0.85" fill="#000"/>
<ellipse cx="312.93" cy="196.40" rx="0.95" ry="0.85" fill="#000"/>
<ellipse cx="331.07" cy="161.10" rx="1.15" ry="0.9" fill="#000"/>
<text x="317.70" y="243.50" font-size="3.7" font-weight="bold" text-anchor="middle" fill="#000" stroke="#000" stroke-width="0.22">5d</text>
<line x1="335.57" y1="239.50" x2="335.57" y2="240.70" stroke="#000" stroke-width="0.6"/>
<rect x="338.24" y="133.00" width="3.68" height="106.50" fill="#0606e4"/>
<rect x="342.79" y="198.60" width="1.8" height="6.20" fill="#f2a8a8"/>
<rect x="341.87" y="204.80" width="3.68" height="34.70" fill="#e40c16"/>
<line x1="347.31" y1="136.00" x2="347.31" y2="130.70" stroke="#707070" stroke-width="0.7"/>
<line x1="346.51" y1="130.70" x2="348.12" y2="130.70" stroke="#707070" stroke-width="0.5"/>
<rect x="345.50" y="136.00" width="3.68" height="103.50" fill="#848484"/>
<line x1="350.94" y1="138.10" x2="350.94" y2="129.90" stroke="#8040b0" stroke-width="0.7"/>
<line x1="350.14" y1="129.90" x2="351.75" y2="129.90" stroke="#8040b0" stroke-width="0.5"/>
<rect x="349.13" y="138.10" width="3.68" height="101.40" fill="#6c34a8"/>
<line x1="354.57" y1="142.60" x2="354.57" y2="136.90" stroke="#f09040" stroke-width="0.7"/>
<line x1="353.77" y1="136.90" x2="355.38" y2="136.90" stroke="#f09040" stroke-width="0.5"/>
<rect x="352.76" y="142.60" width="3.68" height="96.90" fill="#ec7618"/>
<line x1="358.20" y1="144.70" x2="358.20" y2="140.40" stroke="#30b060" stroke-width="0.7"/>
<line x1="357.40" y1="140.40" x2="359.00" y2="140.40" stroke="#30b060" stroke-width="0.5"/>
<rect x="356.39" y="144.70" width="3.68" height="94.80" fill="#18a84c"/>
<line x1="361.83" y1="182.30" x2="361.83" y2="175.10" stroke="#202020" stroke-width="0.7"/>
<line x1="361.03" y1="175.10" x2="362.63" y2="175.10" stroke="#202020" stroke-width="0.5"/>
<rect x="360.02" y="182.30" width="3.68" height="57.20" fill="#000000"/>
<ellipse cx="343.69" cy="193.80" rx="0.95" ry="0.85" fill="#000"/>
<ellipse cx="343.69" cy="197.30" rx="0.95" ry="0.85" fill="#000"/>
<ellipse cx="361.83" cy="172.00" rx="1.15" ry="0.9" fill="#000"/>
<text x="350.00" y="243.50" font-size="3.7" font-weight="bold" text-anchor="middle" fill="#000" stroke="#000" stroke-width="0.22">5e</text>
<line x1="366.33" y1="239.50" x2="366.33" y2="240.70" stroke="#000" stroke-width="0.6"/>
<rect x="369.00" y="133.00" width="3.68" height="106.50" fill="#0606e4"/>
<rect x="373.55" y="197.70" width="1.8" height="7.90" fill="#f2a8a8"/>
<rect x="372.63" y="205.60" width="3.68" height="33.90" fill="#e40c16"/>
<line x1="378.07" y1="132.80" x2="378.07" y2="128.60" stroke="#707070" stroke-width="0.7"/>
<line x1="377.27" y1="128.60" x2="378.88" y2="128.60" stroke="#707070" stroke-width="0.5"/>
<rect x="376.26" y="132.80" width="3.68" height="106.70" fill="#848484"/>
<line x1="381.70" y1="142.10" x2="381.70" y2="138.60" stroke="#8040b0" stroke-width="0.7"/>
<line x1="380.90" y1="138.60" x2="382.50" y2="138.60" stroke="#8040b0" stroke-width="0.5"/>
<rect x="379.89" y="142.10" width="3.68" height="97.40" fill="#6c34a8"/>
<line x1="385.33" y1="144.40" x2="385.33" y2="141.60" stroke="#f09040" stroke-width="0.7"/>
<line x1="384.53" y1="141.60" x2="386.13" y2="141.60" stroke="#f09040" stroke-width="0.5"/>
<rect x="383.52" y="144.40" width="3.68" height="95.10" fill="#ec7618"/>
<line x1="388.96" y1="143.00" x2="388.96" y2="139.50" stroke="#30b060" stroke-width="0.7"/>
<line x1="388.16" y1="139.50" x2="389.76" y2="139.50" stroke="#30b060" stroke-width="0.5"/>
<rect x="387.15" y="143.00" width="3.68" height="96.50" fill="#18a84c"/>
<line x1="392.59" y1="191.30" x2="392.59" y2="185.00" stroke="#202020" stroke-width="0.7"/>
<line x1="391.79" y1="185.00" x2="393.39" y2="185.00" stroke="#202020" stroke-width="0.5"/>
<rect x="390.78" y="191.30" width="3.68" height="48.20" fill="#000000"/>
<ellipse cx="374.44" cy="192.90" rx="0.95" ry="0.85" fill="#000"/>
<ellipse cx="374.44" cy="196.40" rx="0.95" ry="0.85" fill="#000"/>
<ellipse cx="392.59" cy="179.90" rx="0.95" ry="0.85" fill="#000"/>
<ellipse cx="392.59" cy="183.40" rx="0.95" ry="0.85" fill="#000"/>
<text x="381.50" y="243.50" font-size="3.7" font-weight="bold" text-anchor="middle" fill="#000" stroke="#000" stroke-width="0.22">5f</text>
<line x1="397.09" y1="239.50" x2="397.09" y2="240.70" stroke="#000" stroke-width="0.6"/>
<line x1="212.35" y1="127.40" x2="212.35" y2="239.90" stroke="#000" stroke-width="0.8"/>
<line x1="211.95" y1="239.50" x2="397.70" y2="239.50" stroke="#000" stroke-width="0.9"/>
<line x1="211.05" y1="239.50" x2="212.35" y2="239.50" stroke="#000" stroke-width="0.6"/>
<text x="209.65" y="240.69" font-size="3.3" font-weight="bold" text-anchor="end" fill="#000" stroke="#000" stroke-width="0.18">0</text>
<line x1="211.05" y1="212.88" x2="212.35" y2="212.88" stroke="#000" stroke-width="0.6"/>
<text x="209.65" y="214.06" font-size="3.3" font-weight="bold" text-anchor="end" fill="#000" stroke="#000" stroke-width="0.18">25</text>
<line x1="211.05" y1="186.25" x2="212.35" y2="186.25" stroke="#000" stroke-width="0.6"/>
<text x="209.65" y="187.44" font-size="3.3" font-weight="bold" text-anchor="end" fill="#000" stroke="#000" stroke-width="0.18">50</text>
<line x1="211.05" y1="159.62" x2="212.35" y2="159.62" stroke="#000" stroke-width="0.6"/>
<text x="209.65" y="160.81" font-size="3.3" font-weight="bold" text-anchor="end" fill="#000" stroke="#000" stroke-width="0.18">75</text>
<line x1="211.05" y1="133.00" x2="212.35" y2="133.00" stroke="#000" stroke-width="0.6"/>
<text x="209.65" y="134.19" font-size="3.3" font-weight="bold" text-anchor="end" fill="#000" stroke="#000" stroke-width="0.18">100</text>
<text x="194.60" y="130.10" font-size="6.4" font-weight="bold" fill="#000">D</text>
<text x="239.40" y="129.20" font-size="3.85" font-weight="bold" text-anchor="middle" fill="#000" stroke="#000" stroke-width="0.18">MCF10 cells_48 h</text>
<text transform="translate(201.09,185.60) rotate(-90)" font-size="5.8" font-weight="bold" text-anchor="middle" fill="#000">Cell viability (%)</text>
</g>
<rect x="80.5" y="115.9" width="232.9" height="8.1" fill="#f4faf0" stroke="#8ccf7c" stroke-width="0.9"/>
<rect x="82.00" y="117.7" width="3.9" height="3.9" fill="#0606e4"/>
<text transform="translate(88.20,121.55) scale(0.915,1)" style="font-family:'Liberation Serif',serif" font-size="6.45" font-weight="bold" fill="#000" stroke="#000" stroke-width="0.12">Untreated</text>
<rect x="120.30" y="117.7" width="3.9" height="3.9" fill="#e40c16"/>
<text transform="translate(126.30,121.55) scale(0.915,1)" style="font-family:'Liberation Serif',serif" font-size="6.45" font-weight="bold" fill="#000" stroke="#000" stroke-width="0.12">CPT (30 µM)</text>
<rect x="167.00" y="117.7" width="3.9" height="3.9" fill="#848484"/>
<text transform="translate(171.90,121.55) scale(0.915,1)" style="font-family:'Liberation Serif',serif" font-size="6.45" font-weight="bold" fill="#000" stroke="#000" stroke-width="0.12">5 µM</text>
<rect x="190.50" y="117.7" width="3.9" height="3.9" fill="#6c34a8"/>
<text transform="translate(195.80,121.55) scale(0.915,1)" style="font-family:'Liberation Serif',serif" font-size="6.45" font-weight="bold" fill="#000" stroke="#000" stroke-width="0.12">25 µM</text>
<rect x="219.20" y="117.7" width="3.9" height="3.9" fill="#ec7618"/>
<text transform="translate(225.20,121.55) scale(0.915,1)" style="font-family:'Liberation Serif',serif" font-size="6.45" font-weight="bold" fill="#000" stroke="#000" stroke-width="0.12">50 µM</text>
<rect x="252.10" y="117.7" width="3.9" height="3.9" fill="#18a84c"/>
<text transform="translate(257.40,121.55) scale(0.915,1)" style="font-family:'Liberation Serif',serif" font-size="6.45" font-weight="bold" fill="#000" stroke="#000" stroke-width="0.12">75 µM</text>
<rect x="287.10" y="117.7" width="3.9" height="3.9" fill="#000000"/>
<text transform="translate(292.60,121.55) scale(0.915,1)" style="font-family:'Liberation Serif',serif" font-size="6.45" font-weight="bold" fill="#000" stroke="#000" stroke-width="0.12">100 µM</text>
</svg>
</body></html>
